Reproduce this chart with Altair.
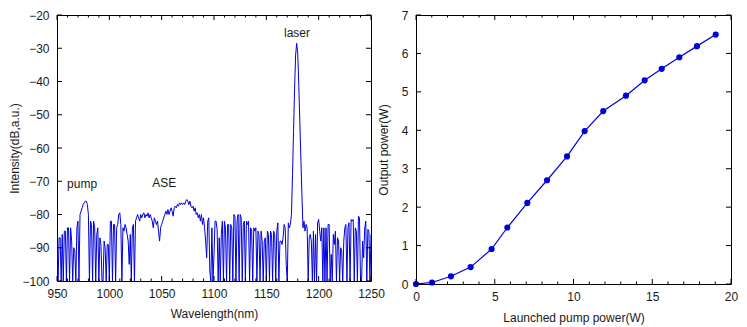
import altair as alt
import pandas as pd

# ---------------- data ----------------
wavelength = list(range(950, 1251))
intensity = [
    -86, -100, -87, -87, -100, -86, -100, -85, -85, -100,      # 950
    -84, -84, -100, -84, -88, -100, -90, -91, -100, -84,       # 960
    -82, -100, -80, -79, -78, -77, -76.5, -76, -76, -77,       # 970
    -80, -100, -82, -83, -100, -82, -84, -100, -86, -84,       # 980
    -100, -87, -89, -100, -100, -88, -90, -100, -89, -89,      # 990
    -100, -82, -82, -100, -83, -83, -100, -84, -83, -80,       # 1000
    -79.5, -83, -100, -84, -85, -83, -84, -86, -88, -95,       # 1010
    -86, -100, -84, -83, -100, -82, -81, -80, -81, -82,        # 1020
    -80, -81, -80, -79.5, -81, -80, -80.5, -79.5, -81, -80,    # 1030
    -81, -82, -84, -81, -82, -83, -82, -85, -88, -84,          # 1040
    -83, -82, -81, -80, -79, -80, -78.5, -80, -79, -78,        # 1050
    -79, -80.5, -78, -77.5, -78, -77, -77.5, -76.5, -77, -76.5,  # 1060
    -77, -76.5, -77, -76, -75.5, -76, -77, -76, -77.5, -78,    # 1070
    -77.5, -79, -78, -80, -79.5, -81, -80, -82, -80, -83,      # 1080
    -81, -84, -88, -93, -82, -81, -97, -100, -84, -100,        # 1090
    -92, -82, -82, -84.5, -100, -87, -100, -86, -82, -100,     # 1100
    -82, -84, -100, -83, -83, -100, -83, -84, -100, -80,       # 1110
    -80.5, -100, -82, -80, -100, -80, -81, -100, -83, -82,     # 1120
    -100, -82, -83, -82, -100, -84, -85, -100, -84, -85,       # 1130
    -84, -100, -85, -86, -100, -85, -88, -100, -88, -87,       # 1140
    -100, -85, -86, -100, -85, -86, -100, -85, -86, -100,      # 1150
    -85, -82.5, -100, -88, -88, -89, -87, -83, -84, -95,       # 1160
    -100, -82.5, -84, -83, -80, -68, -55, -42, -32, -28.5,     # 1170
    -31.5, -41, -52, -63, -74, -84, -82, -85, -83, -84,        # 1180
    -100, -87, -86, -88, -100, -85, -100, -86, -100, -82.5,    # 1190
    -81.5, -85, -88, -84, -100, -84, -100, -84, -100, -83,     # 1200
    -83, -100, -92, -100, -86, -89, -85, -100, -87, -88,       # 1210
    -100, -90, -91, -100, -88, -84, -83, -100, -84, -82.5,     # 1220
    -100, -81.5, -82, -81.5, -100, -84, -85, -100, -80.5, -81, # 1230
    -100, -100, -88, -93, -84, -82, -100, -84.5, -85, -100,    # 1240
    -86,                                                       # 1250
]

pump_power = [0, 1.02, 2.22, 3.47, 4.80, 5.80, 7.07, 8.32, 9.59, 10.71,
              11.89, 13.33, 14.52, 15.60, 16.72, 17.84, 19.03]
output_power = [0, 0.04, 0.20, 0.44, 0.91, 1.47, 2.11, 2.70, 3.32, 3.98,
                4.50, 4.90, 5.30, 5.60, 5.90, 6.19, 6.49]

note_text = ["pump", "ASE", "laser"]
note_x = [974, 1052.5, 1179.3]
note_y = [-70.8, -70.4, -25.3]

left_x_major = list(range(950, 1251, 50))
left_x_minor = [v for v in range(950, 1251, 10) if v % 50 != 0]
left_y_major = list(range(-100, -19, 10))
right_x_major = list(range(0, 21, 5))
right_x_minor = [v for v in range(0, 21) if v % 5 != 0]
right_y_major = list(range(0, 8))

# ---------------- style ----------------
BLUE = "#0000dd"
FONT = "Liberation Sans"
TXT = "#1a1a1a"
W1, H1 = 314, 266
W2, H2 = 315, 269
MAJ, MIN = 5, 2.5

AX_COMMON = dict(ticks=False, tickSize=0, domain=False, grid=False, labelFlush=False,
                 labelFont=FONT, titleFont=FONT, labelFontSize=12, titleFontSize=12,
                 labelColor=TXT, titleColor=TXT, titleFontWeight="normal", format="d")


def tick_layers(xscale, yscale, xaxis, yaxis, xmaj, xmin, ymaj, W, H, xf, yf):
    layers = []
    for vals, ln in ((xmaj, MAJ), (xmin, MIN)):
        d = pd.DataFrame({xf: vals})
        layers.append(alt.Chart(d).mark_rule(color="black", strokeWidth=1).encode(
            x=alt.X(f"{xf}:Q", scale=xscale, axis=xaxis),
            y=alt.value(H), y2=alt.value(H - ln)))
        layers.append(alt.Chart(d).mark_rule(color="black", strokeWidth=1).encode(
            x=alt.X(f"{xf}:Q", scale=xscale, axis=xaxis),
            y=alt.value(0), y2=alt.value(ln)))
    d = pd.DataFrame({yf: ymaj})
    layers.append(alt.Chart(d).mark_rule(color="black", strokeWidth=1).encode(
        y=alt.Y(f"{yf}:Q", scale=yscale, axis=yaxis),
        x=alt.value(0), x2=alt.value(MAJ)))
    layers.append(alt.Chart(d).mark_rule(color="black", strokeWidth=1).encode(
        y=alt.Y(f"{yf}:Q", scale=yscale, axis=yaxis),
        x=alt.value(W), x2=alt.value(W - MAJ)))
    return layers


# ---------------- left panel ----------------
spec_df = pd.DataFrame({"wl": wavelength, "inten": intensity})
notes_df = pd.DataFrame({"wl": note_x, "inten": note_y, "t": note_text})

xs1 = alt.Scale(domain=[950, 1250], nice=False, zero=False, padding=0)
ys1 = alt.Scale(domain=[-100, -20], nice=False, zero=False, padding=0)
ax1x = alt.Axis(values=left_x_major, title="Wavelength(nm)",
                labelPadding=7, titlePadding=9, **AX_COMMON)
ax1y = alt.Axis(values=left_y_major, title="Intensity(dB,a.u.)",
                labelPadding=8, titlePadding=0, **AX_COMMON)

spec_line = alt.Chart(spec_df).mark_line(color=BLUE, strokeWidth=1, clip=True).encode(
    x=alt.X("wl:Q", scale=xs1, axis=ax1x),
    y=alt.Y("inten:Q", scale=ys1, axis=ax1y),
)
notes = alt.Chart(notes_df).mark_text(font=FONT, fontSize=12, color=TXT).encode(
    x=alt.X("wl:Q", scale=xs1, axis=ax1x),
    y=alt.Y("inten:Q", scale=ys1, axis=ax1y),
    text="t:N",
)
left = alt.layer(spec_line, notes,
                 *tick_layers(xs1, ys1, ax1x, ax1y, left_x_major, left_x_minor,
                              left_y_major, W1, H1, "wl", "inten")
                 ).properties(width=W1, height=H1)

# ---------------- right panel ----------------
pw_df = pd.DataFrame({"p": pump_power, "o": output_power})
xs2 = alt.Scale(domain=[0, 20], nice=False, zero=False, padding=0)
ys2 = alt.Scale(domain=[0, 7], nice=False, zero=False, padding=0)
ax2x = alt.Axis(values=right_x_major, title="Launched pump power(W)",
                labelPadding=7, titlePadding=10, **AX_COMMON)
ax2y = alt.Axis(values=right_y_major, title="Output power(W)",
                labelPadding=8, titlePadding=11, **AX_COMMON)

pw_line = alt.Chart(pw_df).mark_line(
    color=BLUE, strokeWidth=1.2,
    point=alt.OverlayMarkDef(filled=True, color=BLUE, size=38, opacity=1),
).encode(
    x=alt.X("p:Q", scale=xs2, axis=ax2x),
    y=alt.Y("o:Q", scale=ys2, axis=ax2y),
)
right = alt.layer(pw_line,
                  *tick_layers(xs2, ys2, ax2x, ax2y, right_x_major, right_x_minor,
                               right_y_major, W2, H2, "p", "o")
                  ).properties(width=W2, height=H2)

chart = alt.hconcat(left, right, spacing=45, bounds="flush").properties(
    padding={"left": 8, "top": 8, "right": 5, "bottom": 5},
    background="white",
).configure_view(
    stroke="black", strokeWidth=1
)

chart.save("out.html", embed_options={"renderer": "svg", "actions": False})
